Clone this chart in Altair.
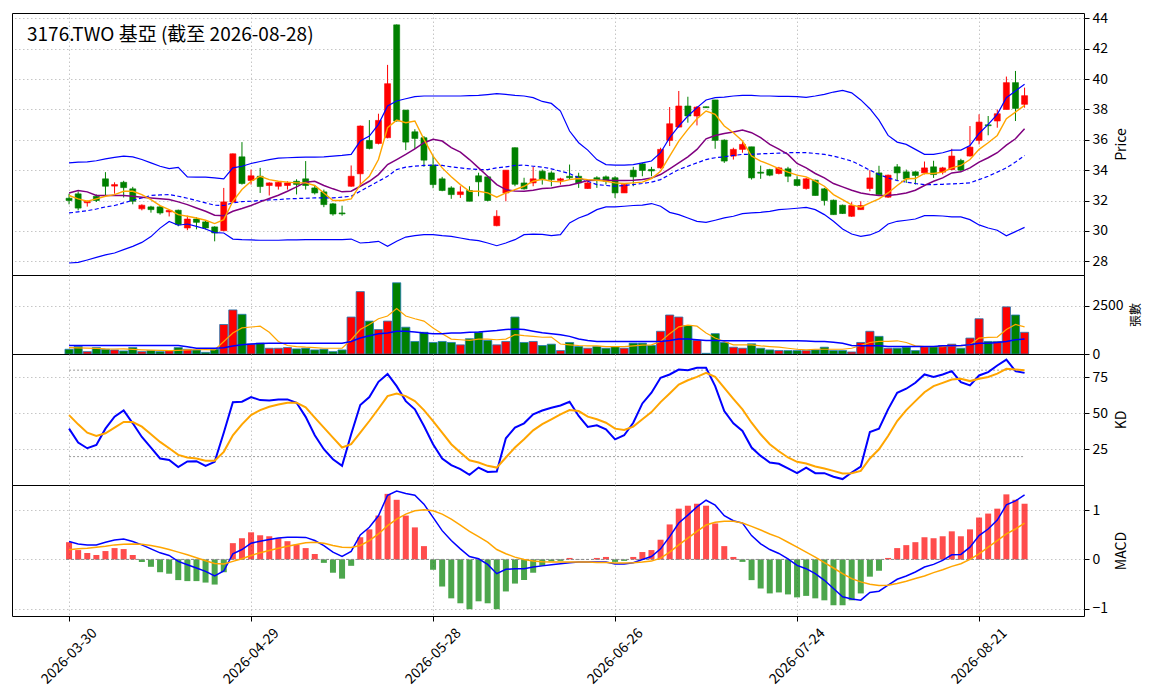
import altair as alt
import pandas as pd

TITLE = "3176.TWO 基亞 (截至 2026-08-28)"
tick_pos = [0, 20, 40, 60, 80, 100]
tick_labels = ["2026-03-30", "2026-04-29", "2026-05-28", "2026-06-26", "2026-07-24", "2026-08-21"]

open_ = [32.15, 32.44, 31.85, 32.28, 33.43, 32.95, 33.2, 32.77, 31.45, 31.58,
         31.58, 31.25, 31.36, 30.19, 30.78, 30.59, 30.26, 30.01, 31.9, 34.88,
         33.32, 33.6, 32.99, 32.94, 32.99, 33.27, 33.43, 32.83, 32.57, 31.78,
         31.18, 32.94, 33.76, 35.96, 35.76, 36.14, 43.58, 37.96, 36.53, 36.14,
         34.33, 33.43, 32.83, 32.39, 32.66, 33.63, 33.56, 30.34, 32.5, 35.48,
         33.16, 33.16, 33.93, 33.82, 33.32, 33.6, 33.6, 32.79, 33.5, 33.56,
         33.5, 32.5, 34.0, 34.42, 34.05, 34.15, 35.96, 36.84, 38.23, 37.57,
         38.18, 38.63, 35.98, 34.93, 35.37, 35.54, 33.87, 34.04, 33.78, 34.09,
         33.38, 32.79, 33.34, 32.77, 32.02, 31.69, 30.96, 31.4, 32.79, 33.82,
         32.22, 34.22, 33.89, 33.89, 33.82, 34.22, 33.87, 34.04, 34.64, 34.93,
         35.96, 36.99, 37.24, 38.0, 39.77, 38.34]
high = [32.45, 32.6, 32.0, 32.4, 33.87, 33.2, 33.3, 32.9, 31.75, 31.65,
        31.65, 31.4, 31.4, 31.0, 30.9, 30.65, 30.3, 32.83, 35.1, 35.85,
        34.04, 34.15, 33.2, 33.27, 33.27, 33.4, 34.6, 33.0, 32.72, 31.84,
        31.66, 34.31, 36.95, 37.3, 37.72, 40.94, 43.6, 37.96, 36.7, 36.25,
        34.97, 33.56, 32.94, 32.94, 32.94, 33.83, 33.6, 31.36, 34.0, 35.5,
        33.5, 34.22, 34.04, 33.93, 33.5, 34.37, 33.83, 33.27, 33.6, 33.65,
        33.6, 33.12, 34.22, 34.48, 34.22, 35.48, 38.16, 39.22, 38.84, 38.23,
        38.2, 38.63, 36.03, 35.48, 35.92, 35.54, 34.3, 34.09, 34.22, 34.22,
        33.6, 33.5, 33.38, 32.83, 32.06, 31.73, 31.89, 31.95, 34.0, 34.29,
        33.71, 34.4, 34.04, 33.93, 34.57, 34.62, 34.22, 35.41, 34.75, 36.91,
        37.68, 37.57, 38.0, 40.17, 40.54, 39.44]
low = [31.75, 31.35, 31.6, 31.9, 32.3, 32.45, 32.2, 31.75, 31.35, 31.2,
       31.07, 30.95, 30.3, 30.04, 30.1, 30.1, 29.31, 30.0, 31.85, 33.05,
       33.05, 32.5, 32.33, 32.72, 32.72, 32.4, 32.72, 32.4, 31.56, 31.0,
       31.0, 32.9, 33.05, 35.37, 35.7, 36.1, 37.2, 35.32, 35.4, 34.22,
       32.81, 32.61, 32.11, 32.17, 31.95, 32.28, 31.95, 30.3, 31.95, 32.94,
       32.72, 32.94, 33.05, 32.94, 33.05, 33.38, 32.83, 32.77, 32.83, 33.05,
       32.17, 32.5, 32.94, 33.6, 33.6, 34.1, 35.59, 36.8, 37.13, 36.95,
       38.1, 35.41, 34.48, 34.7, 35.15, 33.38, 33.43, 33.6, 33.72, 33.21,
       32.94, 32.72, 32.33, 31.67, 31.07, 31.11, 30.92, 31.4, 32.61, 32.39,
       32.17, 33.27, 33.16, 33.05, 33.72, 33.49, 33.72, 34.0, 33.93, 34.9,
       35.7, 36.3, 36.8, 38.0, 37.24, 38.12]
close = [32.0, 31.5, 31.95, 32.0, 32.94, 33.05, 32.85, 31.95, 31.69, 31.4,
         31.18, 31.35, 30.41, 30.78, 30.56, 30.19, 29.86, 31.91, 35.08, 33.12,
         33.63, 32.92, 33.16, 33.2, 33.16, 33.06, 32.99, 32.5, 31.73, 31.11,
         31.12, 33.6, 36.91, 35.43, 37.28, 39.7, 37.24, 35.85, 36.09, 34.66,
         33.05, 32.66, 32.39, 32.57, 31.95, 33.23, 32.0, 30.96, 34.0, 33.07,
         32.77, 33.43, 33.38, 33.38, 33.43, 33.5, 33.16, 33.16, 33.38, 33.27,
         32.5, 33.05, 33.56, 33.98, 33.95, 35.37, 37.06, 38.23, 37.57, 38.16,
         38.12, 35.96, 34.6, 35.37, 35.7, 33.49, 33.8, 33.67, 34.15, 33.6,
         32.99, 33.43, 32.33, 32.0, 31.07, 31.14, 31.67, 31.67, 33.49, 32.39,
         33.67, 33.82, 33.43, 33.65, 34.15, 33.71, 34.15, 34.93, 34.0, 35.52,
         37.17, 36.93, 37.72, 39.77, 38.07, 38.91]

ma5 = [32.33, 32.11, 31.95, 32.11, 32.28, 32.39, 32.61, 32.61, 32.39, 32.06,
       31.67, 31.4, 31.07, 30.96, 30.85, 30.7, 30.48, 30.74, 31.95, 32.72,
       33.27, 33.6, 33.38, 33.27, 33.21, 33.16, 33.16, 32.99, 32.5, 32.0,
       32.0, 32.11, 33.05, 33.6, 34.7, 36.8, 37.3, 37.13, 37.24, 36.03,
       34.93, 34.15, 33.56, 33.05, 32.61, 32.61, 32.5, 32.22, 32.5, 32.72,
       32.94, 33.27, 33.4, 33.27, 33.23, 33.38, 33.45, 33.38, 33.34, 33.27,
       33.16, 33.12, 33.16, 33.21, 33.45, 33.93, 34.93, 35.92, 36.69, 37.39,
       37.9, 37.68, 36.91, 36.47, 35.92, 34.93, 34.6, 34.37, 34.1, 33.87,
       33.67, 33.56, 33.27, 32.94, 32.39, 32.06, 31.71, 31.56, 31.84, 32.11,
       32.5, 32.99, 33.43, 33.45, 33.78, 33.78, 33.87, 34.15, 34.31, 34.7,
       35.37, 35.81, 36.29, 37.39, 37.83, 38.27]
ma10 = [32.5, 32.66, 32.57, 32.33, 32.33, 32.33, 32.33, 32.28, 32.22, 32.17,
        32.11, 32.06, 31.91, 31.73, 31.51, 31.29, 31.03, 31.0, 31.29, 31.47,
        31.67, 31.91, 32.13, 32.35, 32.61, 32.9, 33.21, 33.27, 32.99, 32.77,
        32.57, 32.61, 32.94, 33.27, 33.71, 34.37, 34.7, 35.04, 35.41, 35.81,
        36.03, 35.92, 35.48, 35.19, 34.7, 34.15, 33.6, 33.05, 32.72, 32.63,
        32.61, 32.68, 32.79, 32.83, 32.94, 33.0, 33.16, 33.32, 33.34, 33.34,
        33.32, 33.32, 33.34, 33.38, 33.49, 33.71, 34.09, 34.48, 34.88, 35.37,
        36.07, 36.29, 36.42, 36.51, 36.64, 36.47, 36.14, 35.7, 35.39, 35.04,
        34.44, 34.15, 33.78, 33.49, 33.12, 32.9, 32.68, 32.5, 32.39, 32.33,
        32.33, 32.39, 32.5, 32.68, 32.99, 33.27, 33.49, 33.82, 33.89, 34.15,
        34.53, 34.82, 35.15, 35.65, 36.07, 36.73]
bb_mid = [31.18, 31.25, 31.33, 31.44, 31.58, 31.67, 31.84, 32.02, 32.17, 32.33,
          32.37, 32.39, 32.28, 32.15, 32.0, 31.84, 31.69, 31.67, 31.84, 31.93,
          31.95, 32.0, 32.04, 32.06, 32.11, 32.13, 32.15, 32.17, 32.17, 32.17,
          32.22, 32.28, 32.61, 32.94, 33.27, 33.6, 34.04, 34.2, 34.26, 34.31,
          34.33, 34.31, 34.22, 34.15, 34.09, 34.04, 34.04, 34.15, 34.22, 34.31,
          34.33, 34.26, 34.2, 34.09, 33.93, 33.78, 33.49, 33.27, 33.05, 32.99,
          32.94, 32.99, 33.05, 33.12, 33.21, 33.38, 33.71, 34.04, 34.26, 34.48,
          34.7, 34.82, 34.88, 34.97, 35.04, 35.04, 35.08, 35.1, 35.12, 35.15,
          35.15, 35.15, 35.1, 35.04, 34.93, 34.77, 34.6, 34.31, 34.0, 33.71,
          33.49, 33.32, 33.21, 33.12, 33.05, 33.05, 33.07, 33.1, 33.12, 33.16,
          33.38, 33.6, 33.87, 34.15, 34.53, 34.97]
bb_up = [34.48, 34.53, 34.55, 34.62, 34.75, 34.84, 34.93, 34.88, 34.7, 34.48,
         34.26, 34.1, 34.18, 33.56, 33.54, 33.54, 33.49, 33.43, 34.15, 34.26,
         34.44, 34.57, 34.7, 34.79, 34.82, 34.84, 34.86, 34.86, 34.88, 34.93,
         34.97, 35.04, 35.92, 36.25, 37.02, 38.23, 38.56, 38.71, 38.85, 38.89,
         38.89, 38.89, 38.89, 38.89, 38.91, 38.93, 38.98, 39.04, 39.0, 38.93,
         38.89, 38.78, 38.53, 38.4, 37.9, 36.58, 35.81, 35.32, 34.7, 34.37,
         34.33, 34.33, 34.37, 34.48, 34.6, 35.15, 36.14, 36.91, 37.57, 38.12,
         38.63, 38.78, 38.82, 38.89, 38.93, 38.93, 38.89, 38.89, 38.87, 38.87,
         38.85, 38.8, 38.89, 39.0, 39.15, 39.26, 39.1, 38.63, 38.05, 37.3,
         36.29, 35.85, 35.7, 35.37, 35.04, 35.04, 35.15, 35.32, 35.32, 35.63,
         36.42, 37.02, 37.68, 38.78, 39.22, 39.66]
bb_lo = [27.88, 27.92, 28.08, 28.25, 28.42, 28.54, 28.76, 28.98, 29.24, 29.62,
         30.18, 30.62, 30.37, 30.45, 30.3, 30.12, 29.88, 29.86, 29.46, 29.42,
         29.4, 29.38, 29.38, 29.38, 29.4, 29.4, 29.42, 29.42, 29.42, 29.42,
         29.42, 29.46, 29.2, 29.24, 29.31, 28.98, 29.31, 29.59, 29.68, 29.75,
         29.75, 29.68, 29.64, 29.53, 29.42, 29.35, 29.2, 29.02, 29.2, 29.42,
         29.75, 29.79, 29.77, 29.68, 29.75, 30.52, 30.85, 31.07, 31.4, 31.58,
         31.58, 31.62, 31.67, 31.69, 31.8, 31.62, 31.22, 31.07, 30.85, 30.63,
         30.56, 30.7, 30.85, 30.96, 31.14, 31.18, 31.22, 31.29, 31.4, 31.44,
         31.49, 31.55, 31.4, 31.07, 30.63, 30.12, 29.79, 29.64, 29.73, 29.97,
         30.45, 30.63, 30.7, 30.78, 31.0, 31.0, 30.98, 30.92, 30.92, 30.74,
         30.39, 30.19, 30.04, 29.68, 29.95, 30.23]

volume = [246, 387, 123, 334, 246, 211, 158, 334, 123, 176,
          123, 176, 334, 246, 211, 88, 246, 1531, 2288, 2059,
          510, 563, 299, 299, 334, 264, 299, 211, 246, 123,
          211, 1918, 3238, 1707, 1267, 1707, 3696, 1390, 651, 1126,
          598, 651, 598, 475, 792, 1126, 704, 475, 651, 1918,
          598, 651, 440, 510, 176, 598, 387, 299, 387, 299,
          387, 299, 563, 563, 440, 1179, 2024, 1918, 1478, 704,
          35, 1056, 598, 352, 299, 528, 299, 211, 176, 176,
          176, 176, 211, 352, 176, 176, 106, 598, 1179, 915,
          299, 299, 352, 176, 387, 387, 440, 510, 299, 827,
          1830, 651, 651, 2446, 2024, 1126]
vol_ma5 = [334, 320, 300, 290, 265, 260, 270, 240, 215, 200,
           190, 175, 190, 210, 220, 230, 210, 650, 1090, 1355,
           1400, 1443, 1126, 651, 440, 387, 352, 334, 299, 299,
           299, 739, 1267, 1531, 1830, 1971, 2358, 1971, 1830, 1707,
           1355, 1056, 774, 739, 704, 774, 774, 739, 774, 1003,
           950, 915, 870, 880, 520, 475, 440, 422, 422, 387,
           387, 387, 422, 458, 475, 651, 1056, 1408, 1496, 1443,
           1091, 827, 651, 475, 475, 475, 422, 387, 352, 299,
           246, 211, 246, 246, 246, 246, 299, 440, 598, 651,
           651, 686, 598, 422, 387, 387, 387, 422, 422, 475,
           827, 862, 880, 1267, 1531, 1408]
vol_ma20 = [440, 440, 440, 440, 440, 440, 440, 440, 440, 440,
            440, 440, 440, 380, 300, 300, 300, 330, 420, 475,
            520, 545, 560, 563, 563, 563, 563, 563, 563, 563,
            563, 651, 827, 950, 1056, 1091, 1179, 1179, 1144, 1091,
            1056, 1056, 1091, 1091, 1126, 1144, 1179, 1214, 1267, 1302,
            1267, 1179, 1100, 1056, 1003, 915, 774, 704, 651, 651,
            651, 651, 651, 651, 651, 651, 704, 774, 774, 739,
            704, 704, 686, 686, 686, 686, 686, 686, 686, 686,
            686, 669, 651, 651, 616, 563, 440, 422, 422, 422,
            387, 387, 387, 387, 387, 387, 422, 422, 440, 475,
            563, 563, 598, 651, 739, 774]

k_val = [39.4, 29.7, 25.8, 28.1, 39.4, 47.7, 52.1, 43.1, 33.6, 26.3,
         18.7, 17.7, 12.7, 16.6, 16.8, 13.6, 16.4, 36.6, 57.8, 58.1,
         61.3, 59.2, 59.0, 59.7, 59.7, 57.4, 47.6, 34.8, 25.1, 18.2,
         13.6, 35.5, 55.8, 61.3, 71.9, 77.4, 68.9, 58.5, 52.8, 41.2,
         28.6, 18.7, 14.1, 11.3, 7.4, 12.4, 9.4, 9.7, 32.7, 40.1,
         43.1, 49.3, 52.0, 53.9, 55.5, 58.1, 48.2, 40.6, 41.7, 38.9,
         32.0, 34.8, 43.5, 56.9, 64.3, 74.7, 77.0, 80.4, 80.0, 81.6,
         81.6, 68.9, 51.6, 43.1, 37.8, 26.3, 20.5, 15.9, 15.0, 11.8,
         8.5, 12.4, 8.5, 8.5, 6.0, 4.4, 9.0, 13.1, 37.1, 39.4,
         52.8, 64.3, 67.1, 71.2, 77.0, 75.3, 77.0, 79.3, 71.7, 69.4,
         76.3, 78.6, 83.2, 87.3, 79.3, 78.1]
d_val = [48.8, 42.4, 36.6, 34.3, 36.2, 40.1, 44.0, 44.0, 40.8, 35.5,
         30.2, 25.8, 21.2, 19.4, 18.7, 17.1, 17.1, 23.3, 34.8, 42.4,
         48.8, 52.3, 54.6, 56.2, 57.4, 57.4, 54.2, 47.0, 40.1, 33.2,
         26.3, 28.6, 36.6, 44.7, 53.2, 62.0, 63.8, 62.0, 58.5, 52.3,
         44.7, 36.6, 28.6, 22.8, 17.5, 15.9, 13.6, 12.4, 19.4, 26.3,
         32.0, 38.2, 42.5, 45.9, 49.3, 52.3, 51.6, 47.7, 45.9, 43.5,
         39.4, 38.5, 40.8, 45.9, 50.9, 57.8, 63.8, 70.0, 73.0, 75.3,
         78.1, 75.3, 67.7, 60.1, 52.8, 43.5, 35.5, 28.6, 23.7, 19.4,
         16.4, 15.2, 13.1, 11.8, 10.1, 8.3, 8.5, 10.1, 18.7, 25.1,
         34.3, 44.7, 52.3, 58.5, 64.7, 68.9, 71.2, 73.5, 74.0, 72.4,
         74.0, 75.3, 77.6, 80.9, 80.4, 80.0]
kd_levels = [80, 20]

dif = [0.362, 0.315, 0.295, 0.295, 0.349, 0.396, 0.416, 0.362, 0.295, 0.215,
       0.134, 0.081, -0.04, -0.107, -0.174, -0.242, -0.336, -0.235, 0.114, 0.201,
       0.329, 0.369, 0.403, 0.436, 0.45, 0.45, 0.447, 0.383, 0.282, 0.148,
       0.06, 0.161, 0.497, 0.651, 0.886, 1.302, 1.389, 1.336, 1.302, 1.121,
       0.852, 0.584, 0.383, 0.215, 0.06, 0.013, -0.101, -0.289, -0.201, -0.188,
       -0.188, -0.154, -0.131, -0.107, -0.087, -0.067, -0.054, -0.054, -0.054, -0.054,
       -0.094, -0.094, -0.067, 0.0, 0.06, 0.215, 0.463, 0.738, 0.899, 1.067,
       1.201, 1.101, 0.886, 0.785, 0.738, 0.483, 0.315, 0.201, 0.121, 0.013,
       -0.121, -0.188, -0.289, -0.423, -0.591, -0.758, -0.805, -0.826, -0.671, -0.644,
       -0.523, -0.403, -0.336, -0.255, -0.154, -0.101, -0.02, 0.094, 0.101, 0.248,
       0.483, 0.617, 0.799, 1.107, 1.188, 1.309]
signal = [0.195, 0.215, 0.228, 0.248, 0.268, 0.295, 0.309, 0.315, 0.309, 0.282,
          0.248, 0.201, 0.148, 0.094, 0.034, -0.027, -0.081, -0.094, -0.04, 0.013,
          0.081, 0.134, 0.181, 0.228, 0.268, 0.302, 0.336, 0.349, 0.329, 0.282,
          0.248, 0.242, 0.282, 0.383, 0.517, 0.685, 0.819, 0.919, 0.987, 1.007,
          0.987, 0.919, 0.819, 0.698, 0.570, 0.463, 0.349, 0.201, 0.114, 0.047,
          0.0, -0.034, -0.047, -0.054, -0.054, -0.054, -0.054, -0.054, -0.06, -0.06,
          -0.074, -0.074, -0.067, -0.054, -0.034, 0.027, 0.148, 0.295, 0.43, 0.57,
          0.698, 0.752, 0.772, 0.772, 0.738, 0.671, 0.597, 0.517, 0.447, 0.349,
          0.248, 0.148, 0.047, -0.067, -0.174, -0.289, -0.389, -0.456, -0.503, -0.530,
          -0.523, -0.49, -0.443, -0.389, -0.336, -0.268, -0.208, -0.141, -0.087, 0.0,
          0.114, 0.248, 0.383, 0.517, 0.617, 0.738]
hist = [0.35, 0.19, 0.13, 0.09, 0.17, 0.23, 0.21, 0.09, -0.05, -0.15,
        -0.26, -0.29, -0.42, -0.44, -0.44, -0.47, -0.51, -0.26, 0.33, 0.43,
        0.55, 0.49, 0.47, 0.43, 0.37, 0.30, 0.23, 0.11, -0.07, -0.27,
        -0.39, -0.13, 0.45, 0.61, 0.89, 1.33, 1.21, 0.89, 0.65, 0.27,
        -0.21, -0.55, -0.79, -0.89, -1.01, -0.85, -0.89, -1.01, -0.65, -0.49,
        -0.42, -0.27, -0.13, -0.04, -0.03, 0.03, 0.0, 0.0, 0.03, 0.05,
        -0.05, -0.03, 0.05, 0.15, 0.19, 0.40, 0.71, 1.03, 1.09, 1.13,
        1.09, 0.73, 0.27, 0.05, -0.05, -0.42, -0.59, -0.69, -0.67, -0.71,
        -0.77, -0.74, -0.79, -0.83, -0.93, -0.93, -0.83, -0.69, -0.35, -0.23,
        0.03, 0.23, 0.29, 0.35, 0.45, 0.43, 0.47, 0.57, 0.47, 0.61,
        0.85, 0.93, 1.03, 1.32, 1.21, 1.13]

N = len(close)
df = pd.DataFrame({
    "i": list(range(N)), "open": open_, "high": high, "low": low, "close": close,
    "ma5": ma5, "ma10": ma10, "mid": bb_mid, "up": bb_up, "lo": bb_lo,
    "vol": volume, "vma5": vol_ma5, "vma20": vol_ma20,
    "k": k_val, "d": d_val, "dif": dif, "sig": signal, "hist": hist,
})
df["dir"] = ["up" if c >= o else "down" for o, c in zip(open_, close)]
df["hdir"] = ["up" if h >= 0 else "down" for h in hist]

FONT = "Noto Sans CJK TC"
W = 1072
X_DOM = [-6.27, 111.53]
xs = alt.Scale(domain=X_DOM, nice=False, zero=False)
label_expr = ("[" + ",".join("'%s'" % s for s in tick_labels) + "][indexof(["
              + ",".join(str(p) for p in tick_pos) + "], datum.value)]")


def xenc(field, bottom=False):
    if bottom:
        ax = alt.Axis(values=tick_pos, labelExpr=label_expr, labelAngle=315,
                      labelAlign="center", labelBaseline="middle", labelPadding=35,
                      tickSize=5, grid=True, title=None, domain=False)
    else:
        ax = alt.Axis(values=tick_pos, labels=False, ticks=False, grid=True,
                      title=None, domain=False)
    return alt.X(field, type="quantitative", scale=xs, axis=ax)


def yaxis(values, title, fmt=None, title_size=14):
    kw = dict(orient="right", values=values, title=title, titleAngle=270,
              titleBaseline="top", tickSize=5, labelPadding=3, titlePadding=7,
              grid=True, domain=False, titleFontSize=title_size)
    if fmt:
        kw["format"] = fmt
    return alt.Axis(**kw)


dir_scale = alt.Scale(domain=["up", "down"], range=["#ff0000", "#008000"])
base = alt.Chart(df)

# ---------- price panel ----------
ps = alt.Scale(domain=[27.09, 44.36], nice=False, zero=False)
pax = yaxis([28, 30, 32, 34, 36, 38, 40, 42, 44], "Price")


def pline(field, color, width, dash=None):
    kw = dict(color=color, strokeWidth=width)
    if dash:
        kw["strokeDash"] = dash
    return base.mark_line(**kw).encode(x=xenc("i"), y=alt.Y(field, type="quantitative", scale=ps, axis=pax))


wick = base.mark_rule(strokeWidth=1).encode(
    x=xenc("i"), y=alt.Y("low:Q", scale=ps, axis=pax), y2="high:Q",
    color=alt.Color("dir:N", scale=dir_scale, legend=None))
body = base.transform_calculate(x0="datum.i - 0.33", x1="datum.i + 0.33").mark_bar(strokeWidth=0.6).encode(
    x=xenc("x0"), x2="x1:Q", y=alt.Y("open:Q", scale=ps, axis=pax), y2="close:Q",
    color=alt.Color("dir:N", scale=dir_scale, legend=None),
    stroke=alt.Stroke("dir:N", scale=dir_scale, legend=None))
title_txt = alt.Chart(pd.DataFrame({"t": [TITLE]})).mark_text(
    align="left", baseline="alphabetic", fontSize=19, font=FONT, color="black").encode(
    x=alt.value(15), y=alt.value(27.5), text="t:N")

price = alt.layer(
    wick, body,
    pline("up", "#0000ff", 1.2), pline("lo", "#0000ff", 1.2),
    pline("mid", "#0000ff", 1.2, [4, 2.5]),
    pline("ma10", "#800080", 1.5), pline("ma5", "#ffa500", 1.4),
    title_txt,
).properties(width=W, height=262)

# ---------- volume panel ----------
vs = alt.Scale(domain=[0, 4100], nice=False)
vax = yaxis([0, 2500], "張數", fmt="d", title_size=12)
vbars = base.transform_calculate(x0="datum.i - 0.45", x1="datum.i + 0.45", z="0").mark_bar(
    stroke="#1f77b4", strokeWidth=0.8).encode(
    x=xenc("x0"), x2="x1:Q", y=alt.Y("vol:Q", scale=vs, axis=vax), y2="z:Q",
    color=alt.Color("dir:N", scale=dir_scale, legend=None))
vl5 = base.mark_line(color="#ffa500", strokeWidth=1.2).encode(x=xenc("i"), y=alt.Y("vma5:Q", scale=vs, axis=vax))
vl20 = base.mark_line(color="#0000ff", strokeWidth=1.5).encode(x=xenc("i"), y=alt.Y("vma20:Q", scale=vs, axis=vax))
vol = alt.layer(vbars, vl5, vl20).properties(width=W, height=79)

# ---------- KD panel ----------
ks = alt.Scale(domain=[0.3, 91.2], nice=False, zero=False)
kax = yaxis([25, 50, 75], "KD")
kd_ref = pd.DataFrame({"lvl": kd_levels, "xs": [0] * len(kd_levels), "xe": [N - 1] * len(kd_levels)})
kref = alt.Chart(kd_ref).mark_rule(color="#9a9a9a", strokeDash=[2, 2], strokeWidth=1).encode(
    x=xenc("xs"), x2="xe:Q", y=alt.Y("lvl:Q", scale=ks, axis=kax))
kl = base.mark_line(color="#0000ff", strokeWidth=2).encode(x=xenc("i"), y=alt.Y("k:Q", scale=ks, axis=kax))
dl = base.mark_line(color="#ffa500", strokeWidth=2).encode(x=xenc("i"), y=alt.Y("d:Q", scale=ks, axis=kax))
kd = alt.layer(kref, kl, dl).properties(width=W, height=131)

# ---------- MACD panel ----------
ms = alt.Scale(domain=[-1.148, 1.51], nice=False, zero=False)
max_ = yaxis([-1, 0, 1], "MACD")
hbars = base.transform_calculate(x0="datum.i - 0.33", x1="datum.i + 0.33", z="0").mark_bar(opacity=0.7).encode(
    x=xenc("x0", True), x2="x1:Q", y=alt.Y("hist:Q", scale=ms, axis=max_), y2="z:Q",
    color=alt.Color("hdir:N", scale=dir_scale, legend=None))
zero_df = pd.DataFrame({"y": [0], "xs": [-0.33], "xe": [N - 1 + 0.33]})
zrule = alt.Chart(zero_df).mark_rule(color="#888888", strokeDash=[3, 2], strokeWidth=1).encode(
    x=xenc("xs", True), x2="xe:Q", y=alt.Y("y:Q", scale=ms, axis=max_))
difl = base.mark_line(color="#0000ff", strokeWidth=1.5).encode(x=xenc("i", True), y=alt.Y("dif:Q", scale=ms, axis=max_))
sigl = base.mark_line(color="#ffa500", strokeWidth=1.5).encode(x=xenc("i", True), y=alt.Y("sig:Q", scale=ms, axis=max_))
macd = alt.layer(hbars, zrule, difl, sigl).properties(width=W, height=131)

chart = alt.vconcat(price, vol, kd, macd, spacing=0, bounds="flush").properties(
    padding={"left": 3, "top": 2, "right": 5, "bottom": 5}
).configure_view(stroke="black", strokeWidth=1).configure_axis(
    labelFont=FONT, titleFont=FONT, labelFontSize=14, titleFontWeight="normal",
    labelColor="black", titleColor="black", tickColor="black",
    gridColor="#b8b8b8", gridDash=[1.5, 2.5], gridWidth=0.8,
)

chart.save("out.html", embed_options={"renderer": "svg", "actions": False})
